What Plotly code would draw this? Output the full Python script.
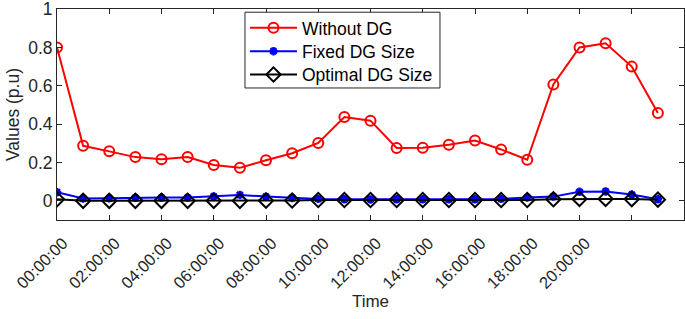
import plotly.graph_objects as go

hours = list(range(24))
tick_hours = list(range(0, 24, 2))
tick_labels = ["00:00:00", "02:00:00", "04:00:00", "06:00:00", "08:00:00", "10:00:00",
               "12:00:00", "14:00:00", "16:00:00", "18:00:00", "20:00:00", ""]
y_ticks = [0, 0.2, 0.4, 0.6, 0.8, 1]
y_labels = ["0", "0.2", "0.4", "0.6", "0.8", "1"]

without_dg = [0.80, 0.287, 0.258, 0.228, 0.217, 0.228, 0.187, 0.172, 0.212, 0.248, 0.302, 0.437,
              0.418, 0.276, 0.277, 0.292, 0.315, 0.268, 0.214, 0.607, 0.80, 0.822, 0.70, 0.458]
fixed_dg = [0.045, 0.012, 0.013, 0.016, 0.017, 0.017, 0.023, 0.031, 0.022, 0.015, 0.010, 0.008,
            0.007, 0.008, 0.008, 0.008, 0.008, 0.010, 0.017, 0.022, 0.047, 0.049, 0.033, 0.008]
optimal_dg = [0.008, 0.000, 0.000, 0.000, 0.000, 0.000, 0.000, 0.000, 0.001, 0.002, 0.004, 0.004,
              0.004, 0.004, 0.004, 0.004, 0.004, 0.004, 0.004, 0.008, 0.010, 0.010, 0.009, 0.006]

names = ["Without DG", "Fixed DG Size", "Optimal DG Size"]
legend_ids = ["legend", "legend2", "legend3"]
legend_rows = [0.9107, 0.7995, 0.6888]

fig = go.Figure()
fig.add_trace(go.Scatter(x=hours, y=without_dg, name=names[0], mode="lines+markers",
                         legend=legend_ids[0],
                         line=dict(color="#ff0000", width=2),
                         marker=dict(symbol="circle-open", size=10, color="#ff0000",
                                     line=dict(width=2, color="#ff0000"))))
fig.add_trace(go.Scatter(x=hours, y=fixed_dg, name=names[1], mode="lines+markers",
                         legend=legend_ids[1],
                         line=dict(color="#0000ff", width=2),
                         marker=dict(symbol="asterisk-open", size=7, color="#0000ff",
                                     line=dict(width=2.5, color="#0000ff"))))
fig.add_trace(go.Scatter(x=hours, y=optimal_dg, name=names[2], mode="lines+markers",
                         legend=legend_ids[2],
                         line=dict(color="#000000", width=2),
                         marker=dict(symbol="diamond-open", size=11, color="#000000",
                                     line=dict(width=2, color="#000000"))))

# legend frame
fig.add_shape(type="rect", xref="paper", yref="paper", x0=0.2998, x1=0.6108,
              y0=0.6257, y1=0.9848, line=dict(color="#262626", width=1),
              fillcolor="white", layer="above")

axis_common = dict(showline=True, linecolor="#262626", linewidth=1, mirror="ticks",
                   ticks="inside", ticklen=5, tickcolor="#262626", showgrid=False,
                   zeroline=False, automargin=False, ticklabeloverflow="allow")

legend_common = dict(x=0.2998, xanchor="left", yanchor="middle",
                     bgcolor="rgba(0,0,0,0)", borderwidth=0,
                     font=dict(size=17.5, color="#000000"), itemwidth=47)

fig.update_layout(
    width=685, height=319,
    margin=dict(l=57, r=1, t=9, b=99),
    paper_bgcolor="white", plot_bgcolor="white",
    font=dict(family="Liberation Sans, Arial, sans-serif", color="#262626"),
    showlegend=True,
    legend=dict(y=legend_rows[0], **legend_common),
    legend2=dict(y=legend_rows[1], **legend_common),
    legend3=dict(y=legend_rows[2], **legend_common),
    xaxis=dict(range=[0, 24], tickmode="array", tickvals=tick_hours, ticktext=tick_labels,
               tickangle=-45, tickfont=dict(size=16.5, color="#262626"),
               ticklabelstandoff=6, ticklabelshift=6,
               title=dict(text="Time", font=dict(size=17, color="#262626"), standoff=4),
               **axis_common),
    yaxis=dict(range=[-0.1, 1.0005], tickmode="array", tickvals=y_ticks, ticktext=y_labels,
               tickfont=dict(size=17.5, color="#262626"),
               title=dict(text="Values (p.u)", font=dict(size=17.5, color="#262626"), standoff=4),
               **axis_common),
)

fig.write_html("out.html", config={"displayModeBar": False},
               post_script="document.body.style.margin='0';")
